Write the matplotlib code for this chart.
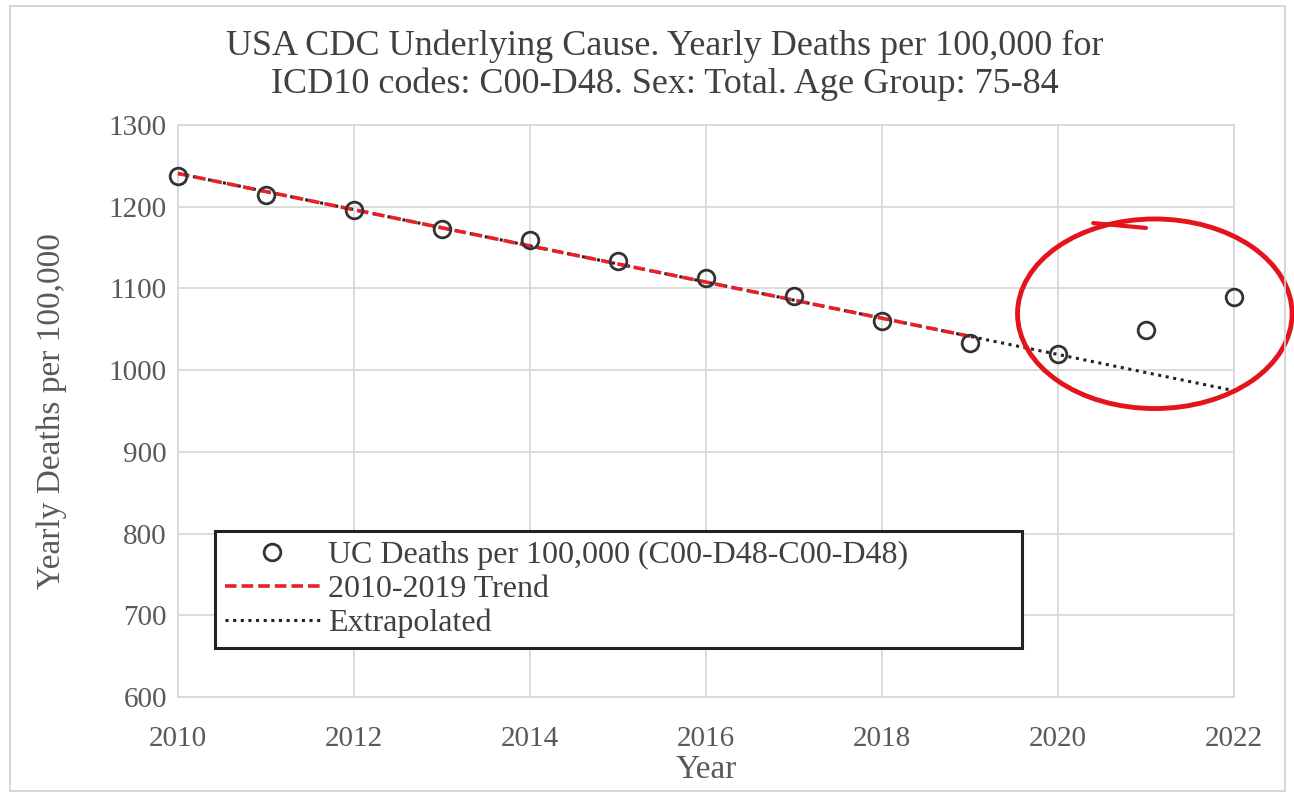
import numpy as np
import matplotlib
matplotlib.use("Agg")
import matplotlib.pyplot as plt
from matplotlib.patches import Ellipse, Rectangle

plt.rcParams['font.family'] = ['Liberation Serif', 'DejaVu Serif']

years = [2010, 2011, 2012, 2013, 2014, 2015, 2016, 2017, 2018, 2019, 2020, 2021, 2022]
deaths = [1238, 1214, 1196, 1173, 1159, 1133, 1113, 1091, 1060, 1033, 1020, 1049, 1089]
trend_start, trend_end = 2010, 2019
x_ticks = [2010, 2012, 2014, 2016, 2018, 2020, 2022]
y_ticks = [600, 700, 800, 900, 1000, 1100, 1200, 1300]

title = "USA CDC Underlying Cause. Yearly Deaths per 100,000 for\nICD10 codes: C00-D48. Sex: Total. Age Group: 75-84"
label_pts = "UC Deaths per 100,000 (C00-D48-C00-D48)"
label_trend = "2010-2019 Trend"
label_extra = "Extrapolated"

yrs = np.array(years, dtype=float)
vals = np.array(deaths, dtype=float)
mask = (yrs >= trend_start) & (yrs <= trend_end)
coef = np.polyfit(yrs[mask], vals[mask], 1)

fig = plt.figure(figsize=(12.94, 7.94), dpi=100)
ax = fig.add_axes([178/1294, 1-697/794, (1234-178)/1294, (697-125)/794])

# figure border
fig.patches.append(Rectangle((0.008, 0.004), 0.985, 0.988, transform=fig.transFigure,
                             fill=False, edgecolor='#d0d0d0', linewidth=1.2))

grid_c = '#d9d9d9'
ax.set_xlim(2010, 2022)
ax.set_ylim(600, 1300)
ax.set_xticks(x_ticks)
ax.set_yticks(y_ticks)
ax.grid(True, color=grid_c, linewidth=1.3)
ax.set_axisbelow(True)
for s in ax.spines.values():
    s.set_color(grid_c)
    s.set_linewidth(1.3)
ax.tick_params(length=0, labelsize=21, labelcolor='#595959')
ax.tick_params(axis='x', pad=21)
ax.tick_params(axis='y', pad=8)

xe = yrs
ax.plot(xe, np.polyval(coef, xe), linestyle=(0, (1, 1.5)), color='#222222', linewidth=2.2,
        label=label_extra, zorder=3, clip_on=False)
xt = yrs[mask]
ax.plot(xt, np.polyval(coef, xt), linestyle=(0, (3.2, 1.4)), color='#e8202a', linewidth=2.6,
        label=label_trend, zorder=4, clip_on=False)
ax.plot(yrs, vals, linestyle='none', marker='o', markersize=12, markerfacecolor='none',
        markeredgecolor='#333333', markeredgewidth=2.0, label=label_pts, zorder=5,
        clip_on=False)

# red hand-drawn circle annotation
ell = Ellipse((2021.1, 1069), 3.12, 232, angle=0, fill=False, edgecolor='#e3141c',
              linewidth=3.5, clip_on=False, zorder=6)
ax.add_patch(ell)
ax.plot([2020.4, 2021.0], [1180, 1174], color='#e3141c', linewidth=3.0, clip_on=False,
        solid_capstyle='round', zorder=6)

handles, labels = ax.get_legend_handles_labels()
order = [2, 1, 0]
leg = ax.legend([handles[i] for i in order], [labels[i] for i in order],
                loc='lower left', bbox_to_anchor=(0.035, 0.0857, 0.764, 0.229),
                mode='expand', fontsize=23, frameon=True, fancybox=False,
                edgecolor='#222222', handlelength=3.0, handletextpad=0.25,
                borderpad=0.3, labelspacing=0.15, framealpha=1, borderaxespad=0)
leg.get_frame().set_linewidth(2.2)
for t in leg.get_texts():
    t.set_color('#404040')

fig.text(0.514, 0.918, title, ha='center', va='center', fontsize=26, color='#404040',
         linespacing=1.15)
ax.set_ylabel("Yearly Deaths per 100,000", fontsize=24, color='#595959', labelpad=30)
ax.set_xlabel("Year", fontsize=24, color='#595959', labelpad=2)

fig.savefig("out.png", dpi=100)
